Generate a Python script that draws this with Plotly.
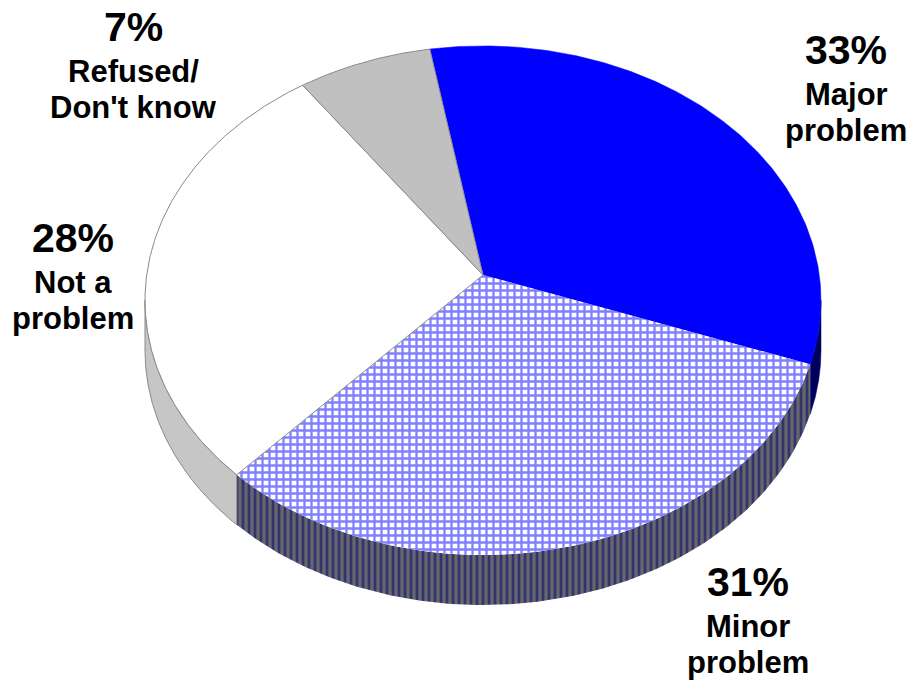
import numpy as np
import plotly.graph_objects as go

# ---- data ----
categories = ["Major problem", "Minor problem", "Not a problem", "Refused/Don't know"]
shares = [33, 31, 28, 7]
label_lines = [["Major", "problem"], ["Minor", "problem"], ["Not a", "problem"], ["Refused/", "Don't know"]]

# ---- styling / layout ----
W, H = 910, 681
CX, CY = 483, 275          # pie apex on screen
A, B, K = 336.3, 252.0, 0.10   # perspective disc projection
DEPTH = 50                 # wall thickness in px
START = 100                # angle (deg) where first slice starts, going clockwise

top_style = [
    dict(fillcolor="#0000ff", line=dict(color="#0000ff", width=0.5)),
    dict(fillcolor="white", line=dict(width=0),
         fillpattern=dict(shape="+", fgcolor="#0000ff", bgcolor="white", size=7, solidity=0.55)),
    dict(fillcolor="white", line=dict(color="#8a8a8a", width=1)),
    dict(fillcolor="#c0c0c0", line=dict(color="#8a8a8a", width=1)),
]
wall_style = [
    dict(fillcolor="#00005e", line=dict(color="#00005e", width=0.5)),
    dict(fillcolor="#5a5a6c", line=dict(width=0),
         fillpattern=dict(shape="|", fgcolor="#00006e", bgcolor="#66666e", size=6, solidity=0.45)),
    dict(fillcolor="#c6c6c6", line=dict(color="#8a8a8a", width=1)),
    dict(fillcolor="#a8a8a8", line=dict(color="#8a8a8a", width=1)),
]
label_pos = [(846, 65), (748, 597), (73, 253), (133, 42)]  # centre x, baseline of first line
FONT = "Arial, Liberation Sans, sans-serif"


def proj(theta_deg, r=1.0):
    t = np.radians(theta_deg)
    u, v = r * np.cos(t), r * np.sin(t)
    d = 1 + K * v
    return CX + A * u / d, CY - B * v / d


fig = go.Figure()

# slice angle intervals (clockwise)
total = float(sum(shares))
spans = []
hi = START
for s in shares:
    lo = hi - 360.0 * s / total
    spans.append((lo, hi))
    hi = lo

# visible front wall: between the leftmost and rightmost silhouette points
edge = np.degrees(np.arcsin(K))
front = (-180 + edge, -edge)

# walls first
for i, (lo, hi) in enumerate(spans):
    for shift in (-360, 0, 360):
        a = max(lo, front[0] + shift)
        b = min(hi, front[1] + shift)
        if b > a:
            th = np.linspace(b, a, 120)
            xt, yt = proj(th)
            xs = np.concatenate([xt, xt[::-1], xt[:1]])
            ys = np.concatenate([yt, (yt + DEPTH)[::-1], yt[:1]])
            fig.add_trace(go.Scatter(x=xs, y=ys, mode="lines", fill="toself",
                                     hoverinfo="skip", showlegend=False, **wall_style[i]))

# top faces
for i, (lo, hi) in enumerate(spans):
    th = np.linspace(hi, lo, 200)
    xt, yt = proj(th)
    xs = np.concatenate([[CX], xt, [CX]])
    ys = np.concatenate([[CY], yt, [CY]])
    fig.add_trace(go.Scatter(x=xs, y=ys, mode="lines", fill="toself", name=categories[i],
                             hoverinfo="name", showlegend=False, **top_style[i]))

# labels
ann = []
for i, s in enumerate(shares):
    x, y0 = label_pos[i]
    ann.append(dict(x=x, y=y0 - 15, text=f"<b>{s}%</b>", showarrow=False,
                    font=dict(family=FONT, size=41, color="black"),
                    xanchor="center", yanchor="middle"))
    for j, line in enumerate(label_lines[i]):
        ann.append(dict(x=x, y=y0 + 40 + 36 * j - 11, text=f"<b>{line}</b>", showarrow=False,
                        font=dict(family=FONT, size=31, color="black"),
                        xanchor="center", yanchor="middle"))

fig.update_layout(
    width=W, height=H, margin=dict(l=0, r=0, t=0, b=0),
    paper_bgcolor="white", plot_bgcolor="white",
    xaxis=dict(range=[0, W], visible=False, fixedrange=True),
    yaxis=dict(range=[H, 0], visible=False, fixedrange=True),
    annotations=ann, showlegend=False,
)

fig.write_html("out.html")
